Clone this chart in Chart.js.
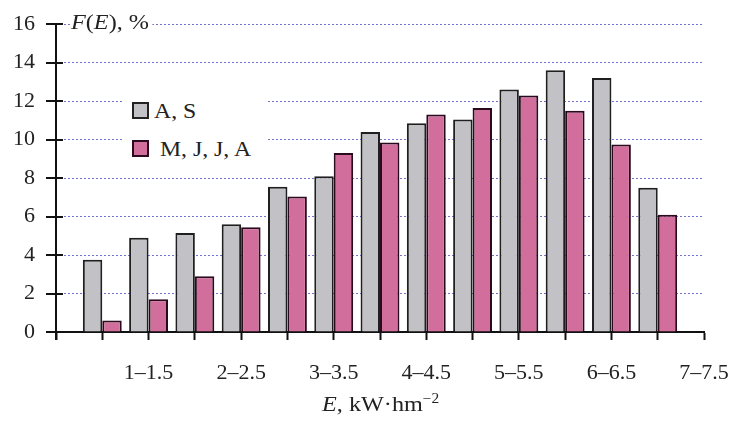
<!DOCTYPE html>
<html>
<head>
<meta charset="utf-8">
<script src="https://cdn.jsdelivr.net/npm/chart.js@4"></script>
<style>
  body { margin: 0; background: #fff; }
  #wrap { position: relative; width: 734px; height: 421px; font-family: "Liberation Serif", "Times New Roman", serif; color: #222; }
  canvas { position: absolute; left: 0; top: 0; }
  .lbl { position: absolute; background: #fff; font-size: 22px; white-space: nowrap; line-height: 1; transform-origin: 0 0; transform: scaleX(1.1); }
  .legend { position: absolute; left: 123px; top: 92px; width: 144px; height: 70px; background: #fff; }
  .row { position: absolute; left: 9px; font-size: 22px; line-height: 1; white-space: nowrap; }
  .row span.t { display: inline-block; transform-origin: 0 0; transform: scaleX(1.08); }
  .sw { display: inline-block; width: 13px; height: 13px; border: 2px solid #222; vertical-align: -1px; margin-right: 5px; }
</style>
</head>
<body>
<div id="wrap">
  <canvas id="chart" width="734" height="421"></canvas>
  <div class="lbl" style="left:71px; top:11px; padding-right:3px;"><i>F</i>(<i>E</i>), %</div>
  <div class="lbl" style="left:322px; top:392px;"><i>E</i>, kW·hm<sup style="font-size:14px; vertical-align:8px;">−2</sup></div>
  <div class="legend">
    <div class="row" style="top:8px;"><span class="sw" style="background:#c2c1c6;"></span><span class="t">A, S</span></div>
    <div class="row" style="top:46px;"><span class="sw" style="background:#d26e9c; border-color:#2a0a1e;"></span><span class="t">&nbsp;M, J, J, A</span></div>
  </div>
</div>
<script>
// energy intervals, E in kW·h/m²
const intervals = ["0–0.5", "0.5–1", "1–1.5", "1.5–2", "2–2.5", "2.5–3", "3–3.5",
  "3.5–4", "4–4.5", "4.5–5", "5–5.5", "5.5–6", "6–6.5", "6.5–7", "7–7.5"];
// F(E), % for April+September and May..August
const aprSep = [null, 3.75, 4.9, 5.15, 5.6, 7.55, 8.1, 10.4, 10.85, 11.05, 12.6, 13.6, 13.2, 7.5, null];
const mayAug = [null, 0.6, 1.7, 2.9, 5.45, 7.05, 9.3, 9.85, 11.3, 11.65, 12.3, 11.5, 9.75, 6.1, null];
const yTicks = [0, 2, 4, 6, 8, 10, 12, 14, 16];

const serif = "'Liberation Serif', 'Times New Roman', serif";

// y axis line with tick marks crossing it
const yAxisLine = {
  id: "yAxisLine",
  afterDraw(chart) {
    const c = chart.ctx;
    const y = chart.scales.y;
    const left = Math.round(chart.chartArea.left);
    const top = y.getPixelForValue(16);
    const bottom = chart.chartArea.bottom + 8;
    c.save();
    c.fillStyle = "#111";
    c.fillRect(left - 1, top - 1, 2, bottom - top + 1);
    yTicks.forEach(v => {
      const py = Math.round(y.getPixelForValue(v));
      c.fillRect(left - 10, py - 1, 17, 2);
    });
    c.restore();
  }
};

const ctx = document.getElementById("chart").getContext("2d");
const chart = new Chart(ctx, {
  type: "bar",
  data: {
    labels: intervals,
    datasets: [
      {
        label: "A, S",
        data: aprSep,
        backgroundColor: "#c2c1c6",
        borderColor: "#1f1f1f",
        borderWidth: 2,
      },
      {
        label: "M, J, J, A",
        data: mayAug,
        backgroundColor: "#d26e9c",
        borderColor: "#2a0a1e",
        borderWidth: 2,
      },
    ],
  },
  options: {
    responsive: false,
    animation: false,
    layout: { padding: { top: 20, right: 30, left: 0, bottom: 0 } },
    categoryPercentage: 0.84,
    barPercentage: 1.0,
    scales: {
      x: {
        offset: false,
        afterFit: s => { s.height = 89; s.paddingRight = 0; s.paddingLeft = 0; },
        grid: { offset: false, drawOnChartArea: false, tickLength: 8, tickColor: "#111", tickWidth: 2 },
        border: { display: true, color: "#111", width: 2 },
        ticks: {
          autoSkip: false,
          maxRotation: 0,
          padding: 20,
          color: "#222",
          font: { family: serif, size: 22 },
          callback: (v, i) => (i > 0 && i % 2 === 0 ? intervals[i] : ""),
        },
      },
      y: {
        min: 0,
        max: 16,
        afterFit: s => { s.width = 56; },
        grid: {
          color: c => (c.tick && c.tick.value === 0 ? "rgba(0,0,0,0)" : "#7373cf"),
          lineWidth: 1,
          tickLength: 10,
          tickColor: "rgba(0,0,0,0)",
        },
        border: { display: false, dash: [2, 2] },
        ticks: {
          stepSize: 2,
          padding: 11,
          color: "#222",
          font: { family: serif, size: 22 },
        },
      },
    },
    plugins: {
      legend: { display: false },
      tooltip: { enabled: false },
    },
  },
  plugins: [yAxisLine],
});
</script>
</body>
</html>
